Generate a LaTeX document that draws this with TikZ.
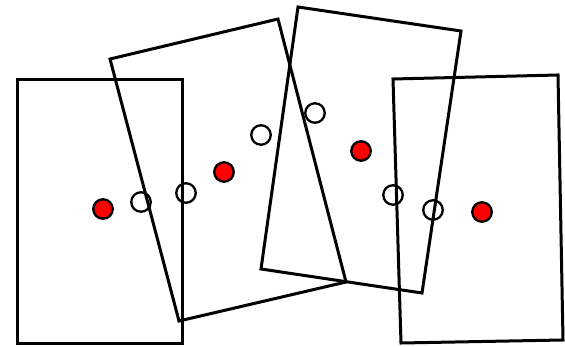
\documentclass[tikz,border=0pt]{standalone}
\begin{document}
\begin{tikzpicture}[x=1pt,y=-1pt,
  card/.style={draw=black,line width=3pt,line join=miter},
  hole/.style={circle,draw=black,line width=2.3pt,minimum size=19.5pt,inner sep=0pt},
  redhole/.style={hole,fill=red}]
\useasboundingbox (0,0) rectangle (565,347);
% cards
\draw[card] (17,80) -- (182,80) -- (182,344) -- (17,344) -- cycle;
\draw[card] (110,59) -- (278,19) -- (346,282) -- (179,321) -- cycle;
\draw[card] (298,7) -- (461,31) -- (422,293) -- (261,269) -- cycle;
\draw[card] (393,79) -- (558,75) -- (563,340) -- (401,343) -- cycle;
% red holes
\node[redhole] (r1) at (103,209) {};
\node[redhole] (r2) at (224,172) {};
\node[redhole] (r3) at (361,151) {};
\node[redhole] (r4) at (482,212) {};
% open holes
\node[hole] (h1) at (141,202) {};
\node[hole] (h2) at (186,193) {};
\node[hole] (h3) at (261,135) {};
\node[hole] (h4) at (315,113) {};
\node[hole] (h5) at (393,195) {};
\node[hole] (h6) at (433,210) {};
\end{tikzpicture}
\end{document}
